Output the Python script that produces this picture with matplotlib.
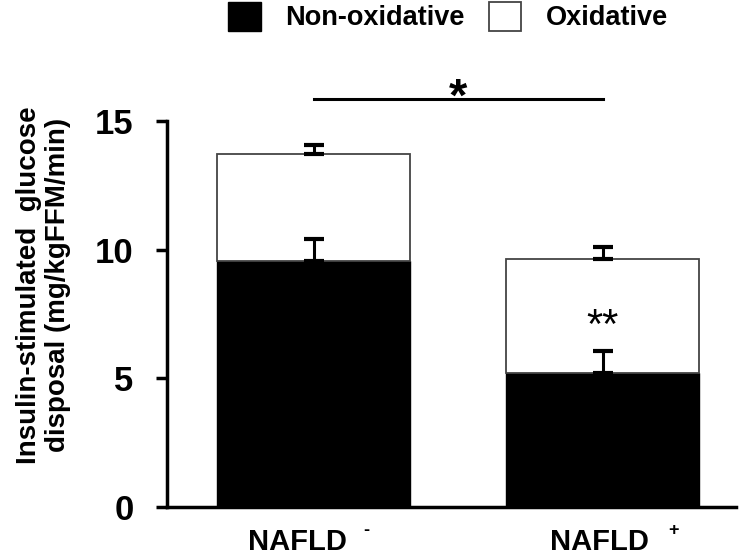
import matplotlib.pyplot as plt
import numpy as np

plt.rcParams['font.family'] = ['Liberation Sans', 'DejaVu Sans']
plt.rcParams['font.weight'] = 'bold'

groups = ['NAFLD', 'NAFLD']
group_signs = ['-', '+']
non_oxidative = [9.57, 5.22]
oxidative = [4.15, 4.41]
non_ox_err = [0.85, 0.84]
ox_err = [0.35, 0.49]

x = np.arange(len(groups))
total = np.array(non_oxidative) + np.array(oxidative)

fig = plt.figure(figsize=(7.5, 5.57), dpi=100)
ax = fig.add_axes([0.2227, 0.0898, 0.7587, 0.693])

w = 0.668
ax.bar(x, non_oxidative, w, color='black', edgecolor='black', label='Non-oxidative', zorder=2)
ax.bar(x, oxidative, w, bottom=non_oxidative, color='white', edgecolor='#444444',
       linewidth=1.3, label='Oxidative', zorder=2)

ekw = dict(fmt='none', ecolor='black', elinewidth=2.2, capsize=7, capthick=3, zorder=3)
ax.errorbar(x, non_oxidative, yerr=[np.zeros(2), non_ox_err], **ekw)
ax.errorbar(x, total, yerr=[np.zeros(2), ox_err], **ekw)

# significance marks
ax.plot([0, 1], [15.86, 15.86], color='black', lw=2.2, clip_on=False)
ax.text(0.5, 15.86, '*', ha='center', va='center', fontsize=34, clip_on=False)
ax.text(1, 7.0, '**', ha='center', va='center', fontsize=30, fontweight='normal')

ax.set_ylim(0, 15)
ax.set_xlim(-0.507, 1.462)
ax.set_yticks([0, 5, 10, 15])
ax.set_xticks(x)
ax.set_xticklabels([])
ax.tick_params(axis='x', length=0)
ax.tick_params(axis='y', labelsize=25, width=2.5, length=8, direction='out', pad=16)
for s in ['top', 'right']:
    ax.spines[s].set_visible(False)
for s in ['left', 'bottom']:
    ax.spines[s].set_linewidth(2.5)

# group labels with superscript signs
name_dx = [-11.5, -2.5]
sign_dx = [35.6, 47.0]
for xi, name, sign, ndx, sdx in zip(x, groups, group_signs, name_dx, sign_dx):
    ax.annotate(name, xy=(xi, 0), xycoords=('data', 'axes fraction'), xytext=(ndx, -31),
                textcoords='offset points', ha='center', va='baseline', fontsize=21,
                fontweight='bold')
    ax.annotate(sign, xy=(xi, 0), xycoords=('data', 'axes fraction'), xytext=(sdx, -20.5),
                textcoords='offset points', ha='left', va='baseline', fontsize=13,
                fontweight='bold')

ax.set_ylabel('Insulin-stimulated  glucose\ndisposal (mg/kgFFM/min)', fontsize=20,
              fontweight='bold', linespacing=1.15)
ax.yaxis.set_label_coords(-0.168, 0.575)

fig.legend(loc='upper left', bbox_to_anchor=(228 / 750, 1 - 2 / 557), ncol=2, frameon=False,
           fontsize=19.5, handlelength=1.2, handleheight=1.25, columnspacing=0.9,
           handletextpad=0.9, borderpad=0, borderaxespad=0)

plt.savefig('out.png', dpi=100)
